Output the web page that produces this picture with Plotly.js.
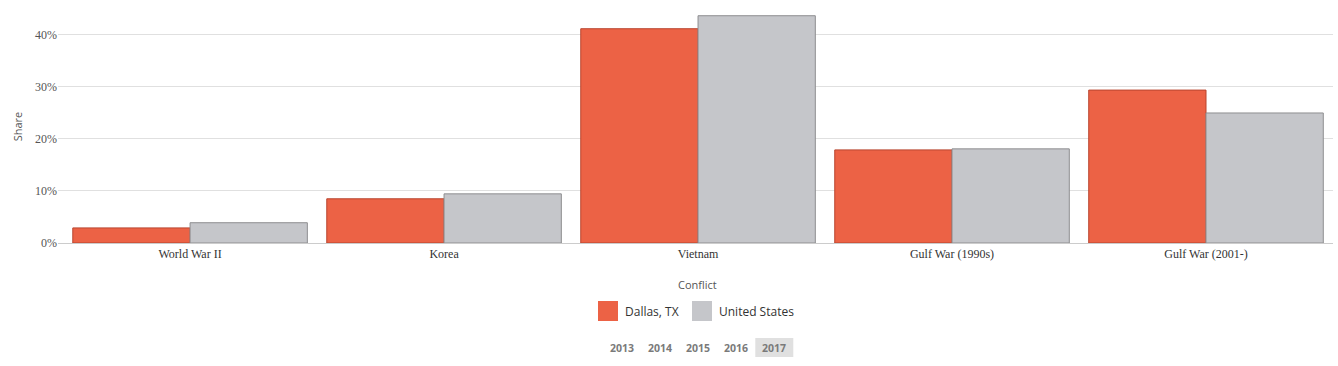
<!DOCTYPE html>
<html><head><meta charset="utf-8">
<script src="https://cdn.plot.ly/plotly-3.0.1.min.js"></script>
<style>html,body{margin:0;padding:0;background:#fff}#chart{width:1338px;height:366px}</style>
</head><body><div id="chart"></div>
<script>
const categories = ["World War II", "Korea", "Vietnam", "Gulf War (1990s)", "Gulf War (2001-)"];
const seriesNames = ["Dallas, TX", "United States"];
const dallasValues = [2.9, 8.5, 41.2, 17.9, 29.4];
const usValues = [3.9, 9.45, 43.7, 18.1, 25.0];
const years = ["2013", "2014", "2015", "2016", "2017"];
const selectedYear = "2017";

const fillColors = ["#ec6245", "#c5c6ca"];
const lineColors = ["#b9452f", "#8e8e90"];

const W = 1338, H = 366;
const mL = 58, mR = 5, mT = 10, mB = 123;
const plotH = H - mT - mB, plotW = W - mL - mR;
const px2x = p => (p - mL) / plotW;
const py2y = p => (H - mB - p) / plotH;

const traces = [dallasValues, usValues].map((vals, i) => ({
  type: "bar", x: categories, y: vals, name: seriesNames[i],
  marker: {color: fillColors[i], line: {color: lineColors[i], width: 1}},
  hoverinfo: "x+y"
}));

const shapes = [];
const annotations = [];
// custom legend
const legendX = [598, 692];
seriesNames.forEach((n, i) => {
  shapes.push({type: "rect", xref: "paper", yref: "paper",
    x0: px2x(legendX[i]), x1: px2x(legendX[i] + 20), y0: py2y(321), y1: py2y(301),
    fillcolor: fillColors[i], line: {width: 0}});
  annotations.push({xref: "paper", yref: "paper", x: px2x(legendX[i] + 25), y: py2y(311),
    xanchor: "left", yanchor: "middle", text: n, showarrow: false,
    font: {family: "Open Sans, sans-serif", size: 12, color: "#333"}});
});
// years
const yearStart = 621.5, yearStep = 38.2;
years.forEach((yr, i) => {
  const cx = yearStart + i * yearStep;
  if (yr === selectedYear) {
    shapes.push({type: "rect", xref: "paper", yref: "paper",
      x0: px2x(cx - 19), x1: px2x(cx + 19), y0: py2y(357), y1: py2y(338),
      fillcolor: "#e0e0e0", line: {width: 0}});
  }
  annotations.push({xref: "paper", yref: "paper", x: px2x(cx), y: py2y(347.5),
    xanchor: "center", yanchor: "middle", text: "<b>" + yr + "</b>", showarrow: false,
    font: {family: "Open Sans, sans-serif", size: 10.5, color: "#7a7a7a"}});
});
annotations.push({xref: "paper", yref: "paper", x: px2x(697), y: py2y(284),
  xanchor: "center", yanchor: "middle", text: "Conflict", showarrow: false,
  font: {family: "Open Sans, sans-serif", size: 11, color: "#555"}});

const layout = {
  width: W, height: H,
  margin: {l: mL, r: mR, t: mT, b: mB},
  paper_bgcolor: "#fff", plot_bgcolor: "#fff",
  showlegend: false,
  barmode: "group", bargap: 0.0765, bargroupgap: 0,
  xaxis: {type: "category", range: [-0.52, 4.5], showgrid: false,
    showline: true, linecolor: "#cccccc", linewidth: 1, ticks: "",
    tickfont: {family: "Liberation Serif, serif", size: 12, color: "#333"}},
  yaxis: {range: [0, 44.8], dtick: 10, ticksuffix: "%", showgrid: true,
    gridcolor: "#e0e0e0", gridwidth: 1, zeroline: false, showline: false,
    ticks: "", ticklen: 4,
    tickfont: {family: "Liberation Serif, serif", size: 12, color: "#555"},
    title: {text: "Share", standoff: 10,
      font: {family: "Open Sans, sans-serif", size: 11, color: "#555"}}},
  shapes: shapes, annotations: annotations
};

Plotly.newPlot("chart", traces, layout, {displayModeBar: false, responsive: false});
</script></body></html>
